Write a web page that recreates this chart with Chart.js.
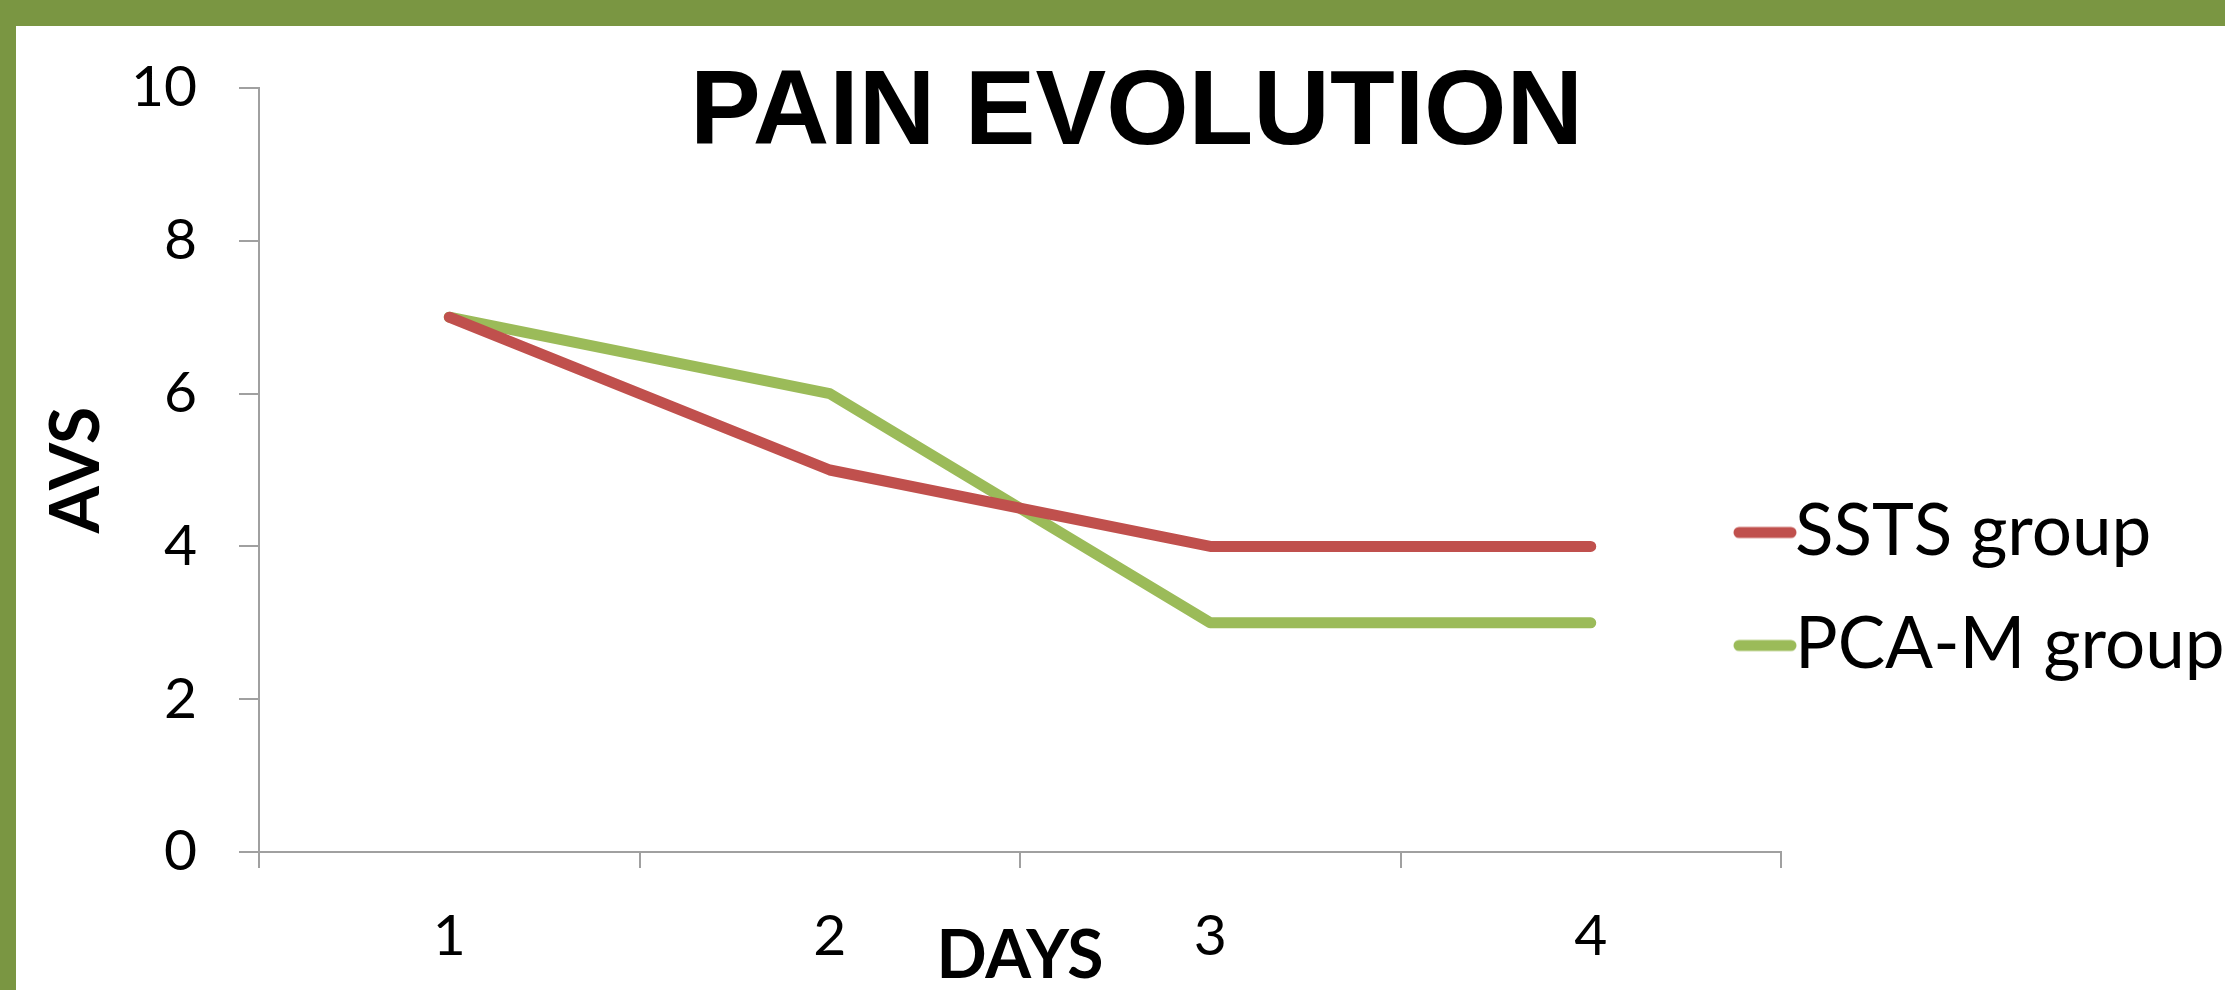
<!DOCTYPE html>
<html>
<head>
<meta charset="utf-8">
<title>PAIN EVOLUTION</title>
<script src="https://cdn.jsdelivr.net/npm/chart.js@4.4.1/dist/chart.umd.min.js"></script>
<style>
  html, body { margin: 0; padding: 0; overflow: hidden; background: #7a9642; }
  #frame { position: absolute; left: 16px; top: 26px; width: 2209px; height: 964px; background: #fff; overflow: hidden; }
  #painChart { display: block; }
</style>
</head>
<body>
<div id="frame">
  <canvas id="painChart" width="2241" height="964"></canvas>
</div>
<script>
// dati
var days = ["1", "2", "3", "4"];
var sstsGroup = [7, 5, 4, 4];
var pcaGroup = [7, 6, 3, 3];
var seriesNames = ["SSTS group", "PCA-M group"];

var red = "#c0504d";
var green = "#9bbb59";
var axisGrey = "#a0a0a0";

// little line used as legend marker (drawn a bit to the right of the box)
function legendMarker(color) {
  var c = document.createElement("canvas");
  c.width = 139;
  c.height = 14;
  var ctx = c.getContext("2d");
  ctx.strokeStyle = color;
  ctx.lineWidth = 11;
  ctx.lineCap = "round";
  ctx.beginPath();
  ctx.moveTo(81, 7);
  ctx.lineTo(133, 7);
  ctx.stroke();
  return c;
}

// the legend sits over the right end of the plot, as in the original
var legendMove = {
  id: "legendMove",
  afterLayout: function (chart) {
    chart.legend.left = chart.chartArea.right - 127.5;
    chart.legend.top = 429;
  }
};

var ctx = document.getElementById("painChart").getContext("2d");

var painChart = new Chart(ctx, {
  type: "line",
  data: {
    labels: days,
    datasets: [
      {
        label: seriesNames[0],
        data: sstsGroup,
        borderColor: red,
        backgroundColor: red,
        borderWidth: 11,
        borderCapStyle: "round",
        borderJoinStyle: "round",
        pointRadius: 0,
        pointStyle: legendMarker(red),
        tension: 0,
        fill: false
      },
      {
        label: seriesNames[1],
        data: pcaGroup,
        borderColor: green,
        backgroundColor: green,
        borderWidth: 11,
        borderCapStyle: "round",
        borderJoinStyle: "round",
        pointRadius: 0,
        pointStyle: legendMarker(green),
        tension: 0,
        fill: false
      }
    ]
  },
  options: {
    responsive: false,
    animation: false,
    devicePixelRatio: 1,
    layout: { padding: 0 },
    plugins: {
      title: {
        display: true,
        text: "PAIN EVOLUTION",
        color: "#000",
        font: { family: "'Liberation Sans', Arial, sans-serif", size: 106, weight: "bold", lineHeight: 1.2 },
        padding: { top: 25, bottom: -90.2 }
      },
      legend: {
        position: "right",
        align: "start",
        maxWidth: 476,
        labels: {
          usePointStyle: true,
          pointStyleWidth: 64,
          padding: 42,
          color: "#000",
          font: { family: "Lato, sans-serif", size: 71 }
        }
      },
      tooltip: { enabled: false }
    },
    scales: {
      x: {
        type: "category",
        offset: true,
        grid: {
          offset: true,
          drawOnChartArea: false,
          drawTicks: true,
          tickLength: 16,
          color: axisGrey,
          lineWidth: 2
        },
        border: { display: true, color: axisGrey, width: 2 },
        ticks: {
          color: "#000",
          padding: 34,
          font: { family: "Lato, sans-serif", size: 57, lineHeight: 1.2 }
        },
        title: {
          display: true,
          text: "DAYS",
          color: "#000",
          font: { family: "Lato, sans-serif", size: 66, weight: "bold", lineHeight: 1 },
          padding: { top: 0, bottom: 0 }
        },
        afterFit: function (scale) { scale.height = 138; }
      },
      y: {
        min: 0,
        max: 10,
        grid: {
          drawOnChartArea: false,
          drawTicks: true,
          tickLength: 20,
          color: axisGrey,
          lineWidth: 2
        },
        border: { display: true, color: axisGrey, width: 2 },
        ticks: {
          stepSize: 2,
          color: "#000",
          padding: 42,
          // small line height so the top label does not push the plot down
          font: { family: "Lato, sans-serif", size: 57, lineHeight: 0.3 }
        },
        title: {
          display: true,
          text: "AVS",
          color: "#000",
          font: { family: "Lato, sans-serif", size: 68, weight: "bold", lineHeight: 1 },
          padding: { top: 27, bottom: 0 }
        },
        afterFit: function (scale) { scale.width = 243; }
      }
    }
  },
  plugins: [legendMove]
});
</script>
</body>
</html>
